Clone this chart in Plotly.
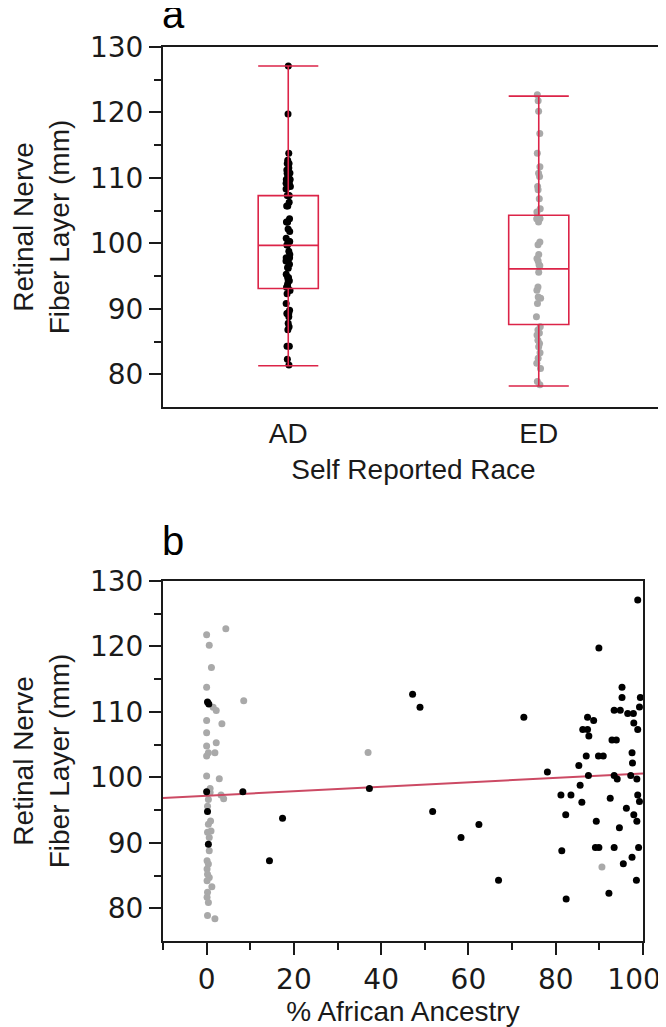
import plotly.graph_objects as go

# ---------------- data ----------------
groups = ["AD", "ED"]

# Self-reported AD participants: % African ancestry and RNFL
ad_ancestry = [0.2, 0.5, 0.0, 0.2, 0.4, 8.3, 14.4, 17.4,
               98.8, 89.9, 47.2, 48.9, 72.7, 37.3, 78.1, 51.8, 62.4, 58.3, 66.9, 82.4,
               81.4, 81.2, 83.5, 82.3, 85.6, 86.0, 85.3, 87.0, 87.5, 86.2, 87.3, 87.6,
               87.3, 88.7, 89.3, 89.1, 89.9, 89.8, 90.9, 92.2, 92.5, 93.4, 92.9, 93.9,
               93.4, 94.1, 93.4, 94.8, 95.2, 95.2, 94.6, 95.5, 96.2, 96.5, 97.8, 97.9,
               98.8, 97.5, 97.6, 97.2, 98.6, 97.9, 98.6, 97.5, 98.5, 99.0, 99.4, 99.2,
               98.8, 99.2]
ad_rnfl = [111.5, 111.2, 97.8, 94.8, 89.8, 97.8, 87.25, 93.75,
           127.1, 119.75, 112.7, 110.7, 109.2, 98.3, 100.8, 94.8, 92.8, 90.8, 84.3, 81.4,
           88.8, 97.3, 97.3, 94.3, 98.8, 96.2, 101.8, 103.25, 100.3, 107.3, 107.3, 106.3,
           109.2, 108.7, 93.3, 89.3, 89.3, 103.25, 103.25, 82.3, 96.8, 89.3, 105.7, 105.7,
           100.3, 99.75, 110.25, 110.25, 113.75, 112.2, 92.3, 86.8, 95.3, 109.75, 109.75, 108.3,
           107.3, 103.75, 102.2, 100.3, 99.75, 94.3, 93.3, 87.8, 84.3, 89.3, 112.2, 110.75,
           97.3, 96.3]

# Self-reported ED participants
ed_ancestry = [0.0, 4.4, 0.6, 1.1, 0.0, 8.5, 1.5, 2.2, 0.0, 3.5, 0.0, 2.2, 0.0, 0.4, 1.9,
               0.0, 0.0, 2.9, 0.8, 0.8, 3.3, 3.9, 0.4, 0.2, 0.9, 0.4, 1.0, 0.2, 0.6, 0.6,
               0.1, 0.4, 0.1, 0.2, 0.6, 0.1, 1.2, 0.2, 0.1, 0.4, 0.2, 1.9, 37.0, 90.6]
ed_rnfl = [121.8, 122.7, 120.2, 116.8, 113.75, 111.7, 110.7, 110.2, 108.7, 108.2, 106.8, 105.3,
           104.8, 103.75, 103.75, 103.25, 100.2, 99.8, 98.3, 97.7, 97.3, 96.75, 96.6, 95.6,
           93.35, 92.85, 91.8, 91.6, 90.8, 88.8, 87.25, 86.75, 86.0, 85.2, 84.7, 84.2, 83.3,
           82.45, 81.7, 80.9, 78.9, 78.4, 103.8, 86.3]

# Box summary
box_q1 = [93.1, 87.6]
box_median = [99.7, 96.1]
box_q3 = [107.3, 104.3]
box_low = [81.3, 78.2]
box_high = [127.1, 122.5]

# Linear fit shown in panel b
fit_intercept = 97.2
fit_slope = 0.034

y_ticks = [80, 90, 100, 110, 120, 130]
y_minor = [85, 95, 105, 115, 125]
x_ticks = [0, 20, 40, 60, 80, 100]
x_ticktext = ["0", "20", "40", "60", "80", "100\u00a0\u00a0"]
x_minor = [-10, 10, 30, 50, 70, 90]
x_range = [-10, 100]

# ---------------- style ----------------
RED = "#dc2448"
AXC = "#1a1a1a"
GRAY = "#a9a9a9"
NUMFONT = dict(family="DejaVu Sans", size=28, color="#1a1a1a")
TXTFONT = dict(family="Liberation Sans", size=28, color="#1a1a1a")

pos = list(range(len(groups)))

fig = go.Figure()

# panel a: points (library jitter), then box summary
for i, (vals, col) in enumerate([(ad_rnfl, "black"), (ed_rnfl, GRAY)]):
    fig.add_trace(go.Box(
        x=[pos[i]] * len(vals), y=vals, boxpoints="all", jitter=0.09, pointpos=0,
        fillcolor="rgba(0,0,0,0)", line=dict(color="rgba(0,0,0,0)", width=0),
        marker=dict(color=col, size=7), width=0.24, showlegend=False,
        hoverinfo="y", xaxis="x", yaxis="y"))

fig.add_trace(go.Box(
    x=pos, q1=box_q1, median=box_median, q3=box_q3,
    lowerfence=box_low, upperfence=box_high, boxpoints=False,
    fillcolor="rgba(0,0,0,0)", line=dict(color=RED, width=1.6),
    whiskerwidth=1, width=0.24, showlegend=False, xaxis="x", yaxis="y"))

# panel b
fig.add_trace(go.Scatter(x=ed_ancestry, y=ed_rnfl, mode="markers",
                         marker=dict(color=GRAY, size=7), showlegend=False,
                         xaxis="x2", yaxis="y2"))
fig.add_trace(go.Scatter(x=x_range, y=[fit_intercept + fit_slope * v for v in x_range],
                         mode="lines", line=dict(color="#cc4a64", width=2),
                         showlegend=False, xaxis="x2", yaxis="y2"))
fig.add_trace(go.Scatter(x=ad_ancestry, y=ad_rnfl, mode="markers",
                         marker=dict(color="black", size=7), showlegend=False,
                         xaxis="x2", yaxis="y2"))

common_y = dict(range=[75, 130], tickmode="array", tickvals=y_ticks,
                ticks="outside", ticklen=12, tickwidth=2, tickcolor=AXC,
                minor=dict(tickmode="array", tickvals=y_minor, ticks="outside",
                           ticklen=7, tickwidth=2, tickcolor=AXC, showgrid=False),
                showline=True, linecolor=AXC, linewidth=2, mirror=True,
                showgrid=False, zeroline=False, tickfont=NUMFONT, automargin=True,
                title=dict(text="Retinal Nerve<br>Fiber Layer (mm)", font=TXTFONT, standoff=26))

fig.update_layout(
    width=658, height=1019,
    margin=dict(l=155, r=2, t=39, b=86, autoexpand=False),
    paper_bgcolor="white", plot_bgcolor="white",
    boxmode="overlay",
    xaxis=dict(domain=[0, 1], anchor="y", range=[-0.5, 1.5], automargin=False,
               tickmode="array", tickvals=pos, ticktext=groups, ticks="",
               showline=True, linecolor=AXC, linewidth=2, mirror=True,
               showgrid=False, zeroline=False, tickfont=TXTFONT,
               title=dict(text="Self Reported Race", font=TXTFONT, standoff=12)),
    xaxis3=dict(overlaying="x", anchor="y", side="bottom", range=[-0.5, 1.5],
                automargin=False,
                tickmode="array", tickvals=[0.5], ticktext=[""],
                ticks="outside", ticklen=12, tickwidth=2, tickcolor=AXC,
                showline=False, showgrid=False, zeroline=False),
    yaxis=dict(domain=[0.5973, 1], anchor="x", **common_y),
    xaxis2=dict(domain=[0, 0.958], anchor="y2", range=x_range, automargin=False,
                tickmode="array", tickvals=x_ticks, ticktext=x_ticktext,
                ticklabeloverflow="allow",
                ticks="outside", ticklen=12, tickwidth=2, tickcolor=AXC,
                minor=dict(tickmode="array", tickvals=x_minor, ticks="outside",
                           ticklen=7, tickwidth=2, tickcolor=AXC, showgrid=False),
                showline=True, linecolor=AXC, linewidth=2, mirror=True,
                showgrid=False, zeroline=False, tickfont=NUMFONT,
                title=dict(text="% African Ancestry", font=TXTFONT, standoff=8)),
    yaxis2=dict(domain=[0, 0.4027], anchor="x2", **common_y),
    annotations=[
        dict(text="a", xref="paper", yref="paper", x=0, y=1.0, xanchor="left",
             yanchor="bottom", xshift=-3, yshift=9, showarrow=False,
             font=dict(family="Liberation Sans", size=40, color="black")),
        dict(text="b", xref="paper", yref="paper", x=0, y=0.4027, xanchor="left",
             yanchor="bottom", xshift=-3, yshift=16, showarrow=False,
             font=dict(family="Liberation Sans", size=40, color="black")),
    ],
)

fig.write_html("out.html")
